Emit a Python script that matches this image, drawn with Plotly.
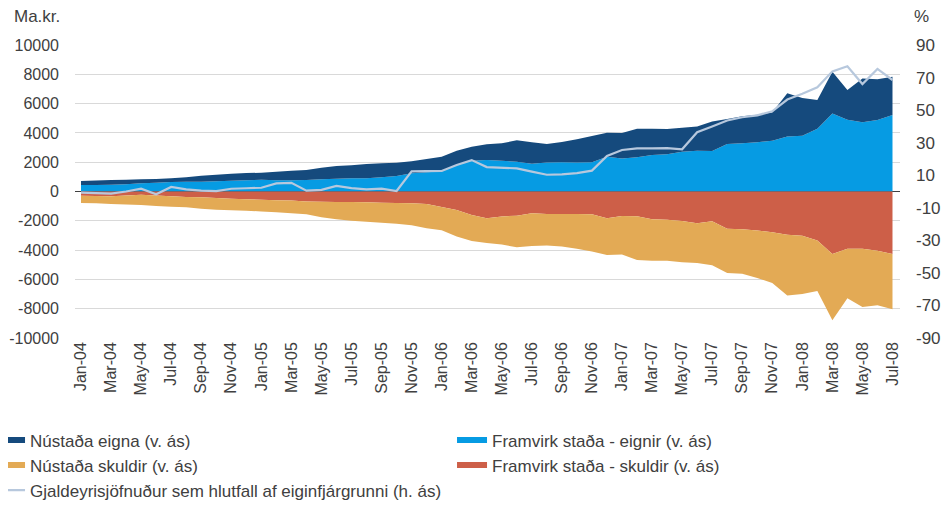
import plotly.graph_objects as go

months = [f"{m}-{y:02d}" for y in range(4, 9) for m in
          ["Jan", "Feb", "Mar", "Apr", "May", "Jun", "Jul", "Aug", "Sep", "Oct", "Nov", "Dec"]][:55]

framvirk_eignir = [444, 444, 465, 500, 570, 600, 640, 670, 670, 700, 740, 770, 800, 760, 760, 785, 830, 875, 900, 900,
                   970, 1060, 1250, 1320, 1370, 1800, 2100, 2150, 2100, 2030, 1900, 1980, 2000, 1980, 2000, 2380, 2250,
                   2340, 2490, 2540, 2720, 2790, 2770, 3250, 3290, 3360, 3470, 3750, 3810, 4290, 5330, 4900, 4720, 4880, 5220]
nustada_eigna = [280, 305, 320, 310, 260, 260, 260, 300, 410, 450, 470, 490, 480, 590, 660, 685, 795, 865, 890, 980,
                 955, 910, 810, 900, 1010, 990, 960, 1080, 1190, 1460, 1460, 1260, 1380, 1580, 1790, 1630, 1750,
                 1950, 1800, 1730, 1640, 1640, 2000, 1700, 1840, 1880, 1930, 2950, 2570, 1950, 2840, 2020, 3000, 2790, 2610]
framvirk_skuldir = [-290, -310, -320, -270, -230, -270, -330, -370, -400, -450, -490, -530, -560, -590, -620, -680, -700,
                    -710, -720, -740, -760, -790, -810, -850, -1050, -1260, -1600, -1830, -1700, -1650, -1490, -1530,
                    -1540, -1530, -1550, -1830, -1670, -1690, -1900, -1930, -2020, -2160, -2030, -2540, -2570, -2660,
                    -2780, -2950, -3020, -3340, -4270, -3900, -3900, -4040, -4270]
nustada_skuldir = [-490, -500, -530, -610, -690, -720, -710, -710, -770, -790, -790, -780, -800, -830, -870, -880, -1060,
                   -1190, -1270, -1320, -1370, -1410, -1490, -1650, -1600, -1820, -1780, -1680, -1920, -2160, -2230,
                   -2150, -2220, -2370, -2550, -2500, -2630, -2990, -2820, -2790, -2810, -2720, -3010, -3020, -3040,
                   -3240, -3460, -4150, -3980, -3460, -4510, -3380, -3980, -3720, -3760]
gjaldeyrisjofnudur = [-0.7, -1.1, -1.3, 0, 1.7, -1.7, 2.8, 1.3, 0.5, 0.2, 1.7, 2.0, 2.3, 5.0, 5.3, 0.5, 1.0, 3.4, 2.1,
                      1.3, 1.8, 0.3, 12.4, 12.5, 12.6, 16.3, 19.3, 15.0, 14.8, 14.2, 12.2, 10.3, 10.5, 11.3, 12.8, 21.8,
                      25.5, 26.5, 26.5, 26.6, 25.9, 36.4, 39.9, 43.6, 45.6, 46.8, 49.3, 56.5, 60.0, 64.0, 73.8, 76.9,
                      66.0, 75.3, 68.5]

left_ticks = list(range(-10000, 10001, 2000))
left_labels = [str(v) for v in left_ticks]
right_ticks = list(range(-90, 91, 20))
right_labels = [str(v) for v in right_ticks]

C_DARK = "#154a7d"
C_LIGHT = "#069be3"
C_RED = "#cd5f48"
C_ORANGE = "#e3aa55"
C_LINE = "#b7c8dd"
TXT = "#404040"
FONT = "Liberation Sans, Arial, sans-serif"

fig = go.Figure()
fig.add_trace(go.Scatter(x=months, y=framvirk_eignir, name="Framvirk staða - eignir (v. ás)", stackgroup="pos",
                         mode="none", fillcolor=C_LIGHT, legend="legend2", legendrank=1))
fig.add_trace(go.Scatter(x=months, y=nustada_eigna, name="Nústaða eigna (v. ás)", stackgroup="pos",
                         mode="none", fillcolor=C_DARK, legend="legend", legendrank=1))
fig.add_trace(go.Scatter(x=months, y=framvirk_skuldir, name="Framvirk staða - skuldir (v. ás)", stackgroup="neg",
                         mode="none", fillcolor=C_RED, legend="legend2", legendrank=2))
fig.add_trace(go.Scatter(x=months, y=nustada_skuldir, name="Nústaða skuldir (v. ás)", stackgroup="neg",
                         mode="none", fillcolor=C_ORANGE, legend="legend", legendrank=2))
fig.add_trace(go.Scatter(x=months, y=gjaldeyrisjofnudur, yaxis="y2", mode="lines",
                         name="Gjaldeyrisjöfnuður sem hlutfall af eiginfjárgrunni (h. ás)",
                         line=dict(color=C_LINE, width=2.2), legend="legend", legendrank=3))

leg_common = dict(orientation="v", xanchor="left", yanchor="top", traceorder="normal",
                  font=dict(size=17, color=TXT), itemwidth=30, tracegroupgap=0, bgcolor="rgba(0,0,0,0)")

fig.update_layout(
    width=941, height=504,
    margin=dict(l=67, r=49, t=37, b=174, autoexpand=False),
    paper_bgcolor="white", plot_bgcolor="white",
    font=dict(family=FONT, size=17, color=TXT),
    showlegend=True,
    legend=dict(x=-0.103, y=-0.288, **leg_common),
    legend2=dict(x=0.457, y=-0.288, **leg_common),
    xaxis=dict(type="category", range=[-0.4, 54.5], tickmode="array",
               tickvals=months[::2], ticktext=months[::2], tickangle=-90,
               showgrid=False, zeroline=False, showline=False, ticks="",
               tickfont=dict(size=16, color=TXT)),
    yaxis=dict(range=[-10000, 10000], tickmode="array", tickvals=left_ticks, ticktext=left_labels,
               showgrid=True, gridcolor="#d9d9d9", gridwidth=1,
               zeroline=True, zerolinecolor="#404040", zerolinewidth=1,
               showline=False, ticks="", ticklabelstandoff=15,
               tickfont=dict(size=16, color=TXT)),
    yaxis2=dict(range=[-90, 90], overlaying="y", side="right", tickmode="array", tickvals=right_ticks,
                ticktext=right_labels,
                showgrid=False, zeroline=False, showline=False, ticks="", ticklabelstandoff=15,
                tickfont=dict(size=17, color=TXT)),
    annotations=[
        dict(text="Ma.kr.", xref="paper", yref="paper", x=-0.0764, y=1.0, yanchor="bottom", xanchor="left",
             showarrow=False, font=dict(size=17, color=TXT), yshift=17),
        dict(text="%", xref="paper", yref="paper", x=1.0145, y=1.0, yanchor="bottom", xanchor="left",
             showarrow=False, font=dict(size=17, color=TXT), yshift=17),
    ],
)

fig.write_html("out.html")
